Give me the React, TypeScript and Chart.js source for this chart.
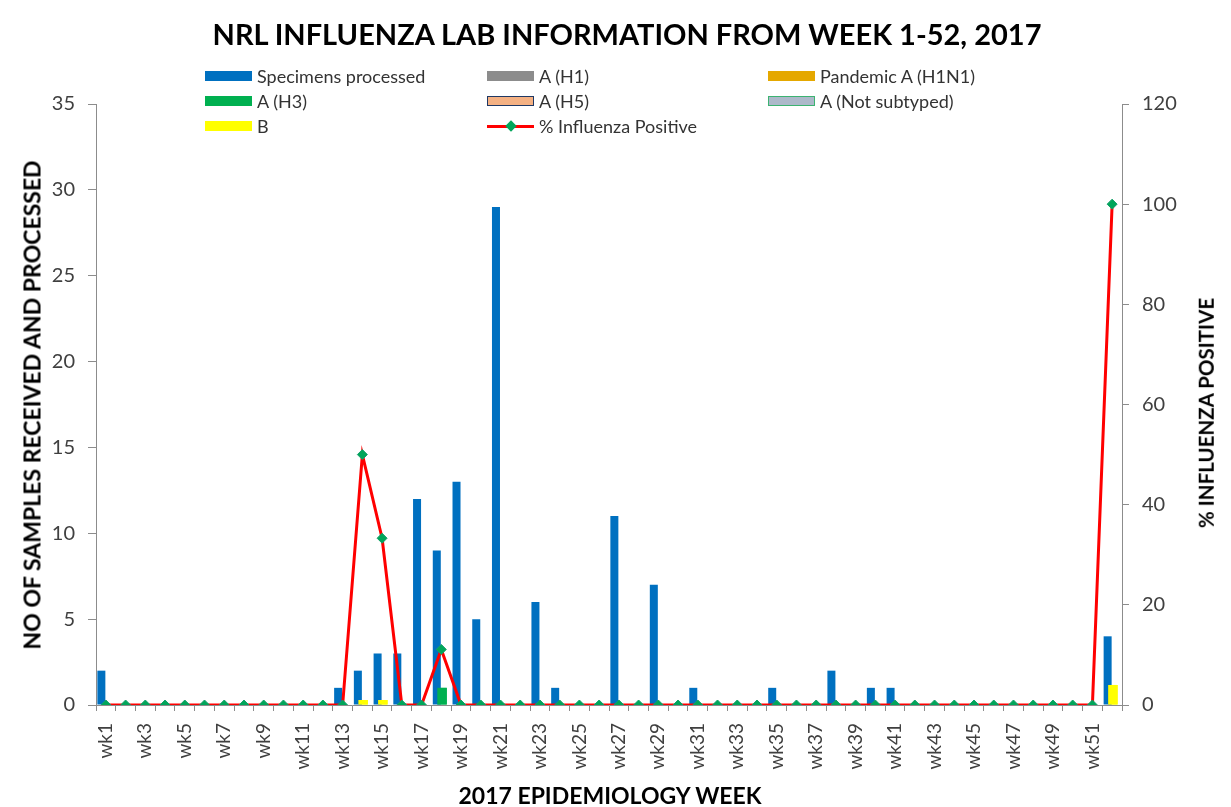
import React, { useEffect, useRef } from 'react';
import { Chart, registerables } from 'chart.js';

Chart.register(...registerables);

const weekLabels = [
  'wk1', 'wk2', 'wk3', 'wk4', 'wk5', 'wk6', 'wk7', 'wk8', 'wk9', 'wk10',
  'wk11', 'wk12', 'wk13', 'wk14', 'wk15', 'wk16', 'wk17', 'wk18', 'wk19', 'wk20',
  'wk21', 'wk22', 'wk23', 'wk24', 'wk25', 'wk26', 'wk27', 'wk28', 'wk29', 'wk30',
  'wk31', 'wk32', 'wk33', 'wk34', 'wk35', 'wk36', 'wk37', 'wk38', 'wk39', 'wk40',
  'wk41', 'wk42', 'wk43', 'wk44', 'wk45', 'wk46', 'wk47', 'wk48', 'wk49', 'wk50',
  'wk51', 'wk52',
];

const specimens = [
  2, 0, 0, 0, 0, 0, 0, 0, 0, 0,
  0, 0, 1, 2, 3, 3, 12, 9, 13, 5,
  29, 0, 6, 1, 0, 0, 11, 0, 7, 0,
  1, 0, 0, 0, 1, 0, 0, 2, 0, 1,
  1, 0, 0, 0, 0, 0, 0, 0, 0, 0,
  0, 4,
];

const aH1 = [
  0, 0, 0, 0, 0, 0, 0, 0, 0, 0, 0, 0, 0, 0, 0, 0, 0, 0, 0, 0, 0, 0, 0, 0, 0, 0,
  0, 0, 0, 0, 0, 0, 0, 0, 0, 0, 0, 0, 0, 0, 0, 0, 0, 0, 0, 0, 0, 0, 0, 0, 0, 0,
];

const pandemicH1N1 = [
  0, 0, 0, 0, 0, 0, 0, 0, 0, 0, 0, 0, 0, 0, 0, 0, 0, 0, 0, 0, 0, 0, 0, 0, 0, 0,
  0, 0, 0, 0, 0, 0, 0, 0, 0, 0, 0, 0, 0, 0, 0, 0, 0, 0, 0, 0, 0, 0, 0, 0, 0, 0,
];

const aH3 = [
  0, 0, 0, 0, 0, 0, 0, 0, 0, 0, 0, 0, 0, 0, 0, 0, 0, 1, 0, 0, 0, 0, 0, 0, 0, 0,
  0, 0, 0, 0, 0, 0, 0, 0, 0, 0, 0, 0, 0, 0, 0, 0, 0, 0, 0, 0, 0, 0, 0, 0, 0, 0,
];

const aH5 = [
  0, 0, 0, 0, 0, 0, 0, 0, 0, 0, 0, 0, 0, 0, 0, 0, 0, 0, 0, 0, 0, 0, 0, 0, 0, 0,
  0, 0, 0, 0, 0, 0, 0, 0, 0, 0, 0, 0, 0, 0, 0, 0, 0, 0, 0, 0, 0, 0, 0, 0, 0, 0,
];

const aNotSubtyped = [
  0, 0, 0, 0, 0, 0, 0, 0, 0, 0, 0, 0, 0, 0, 0, 0, 0, 0, 0, 0, 0, 0, 0, 0, 0, 0,
  0, 0, 0, 0, 0, 0, 0, 0, 0, 0, 0, 0, 0, 0, 0, 0, 0, 0, 0, 0, 0, 0, 0, 0, 0, 0,
];

// B is plotted against the secondary (%) axis in the original
const influenzaB = [
  0, 0, 0, 0, 0, 0, 0, 0, 0, 0, 0, 0, 0, 1, 1, 0, 0, 0, 0, 0, 0, 0, 0, 0, 0, 0,
  0, 0, 0, 0, 0, 0, 0, 0, 0, 0, 0, 0, 0, 0, 0, 0, 0, 0, 0, 0, 0, 0, 0, 0, 0, 4,
];

const pctPositive = [
  0, 0, 0, 0, 0, 0, 0, 0, 0, 0, 0, 0, 0, 50, 33.3, 0, 0, 11.1, 0, 0, 0, 0, 0, 0, 0, 0,
  0, 0, 0, 0, 0, 0, 0, 0, 0, 0, 0, 0, 0, 0, 0, 0, 0, 0, 0, 0, 0, 0, 0, 0, 0, 100,
];

const FONT = 'Lato, "Open Sans", sans-serif';
const TICK_COLOR = '#404040';
const AXIS_COLOR = '#8C8C8C';

const subtypeOnTop = {
  id: 'subtypeOnTop',
  afterDatasetDraw(chart: any, args: any) {
    if (args.index === 0) {
      for (let i = 1; i <= 6; i++) {
        const m = chart.getDatasetMeta(i);
        if (!m.hidden) m.controller.draw();
      }
    }
  },
};

const legendItems = [
  { label: 'Specimens processed', fill: '#0070C0', border: '', line: false, col: 0, row: 0 },
  { label: 'A (H1)', fill: '#8C8C8C', border: '', line: false, col: 1, row: 0 },
  { label: 'Pandemic A (H1N1)', fill: '#E5A800', border: '', line: false, col: 2, row: 0 },
  { label: 'A (H3)', fill: '#00B050', border: '', line: false, col: 0, row: 1 },
  { label: 'A (H5)', fill: '#F4B183', border: '#1F3864', line: false, col: 1, row: 1 },
  { label: 'A (Not subtyped)', fill: '#ADB9CA', border: '#3CB371', line: false, col: 2, row: 1 },
  { label: 'B', fill: '#FFFF00', border: '', line: false, col: 0, row: 2 },
  { label: '% Influenza Positive', fill: '#FF0000', border: '', line: true, col: 1, row: 2 },
];
const legendColX = [205, 487, 768];
const legendRowY = [76, 101, 126];

export default function App() {
  const canvasRef = useRef<HTMLCanvasElement | null>(null);

  useEffect(() => {
    const canvas = canvasRef.current;
    if (!canvas) return;
    const subBar = { stack: 'b', categoryPercentage: 0.152, barPercentage: 6.3, order: 1, borderWidth: 0 };
    const chart = new Chart(canvas, {
      type: 'bar',
      data: {
        labels: weekLabels,
        datasets: [
          {
            type: 'bar', label: 'Specimens processed', data: specimens, backgroundColor: '#0070C0',
            stack: 'a', yAxisID: 'y', categoryPercentage: 0.913, barPercentage: 0.889, order: 1, borderWidth: 0,
          } as any,
          { type: 'bar', label: 'A (H1)', data: aH1, backgroundColor: '#8C8C8C', yAxisID: 'y', ...subBar } as any,
          { type: 'bar', label: 'Pandemic A (H1N1)', data: pandemicH1N1, backgroundColor: '#E5A800', yAxisID: 'y', ...subBar } as any,
          { type: 'bar', label: 'A (H3)', data: aH3, backgroundColor: '#00B050', yAxisID: 'y', ...subBar } as any,
          { type: 'bar', label: 'A (H5)', data: aH5, backgroundColor: '#F4B183', yAxisID: 'y', ...subBar } as any,
          { type: 'bar', label: 'A (Not subtyped)', data: aNotSubtyped, backgroundColor: '#ADB9CA', yAxisID: 'y', ...subBar } as any,
          { type: 'bar', label: 'B', data: influenzaB, backgroundColor: '#FFFF00', yAxisID: 'y1', ...subBar } as any,
          {
            type: 'line', label: '% Influenza Positive', data: pctPositive, yAxisID: 'y1',
            borderColor: '#FF0000', borderWidth: 3, tension: 0, order: 0,
            pointStyle: 'rectRot', pointRadius: 5, pointBackgroundColor: '#00A65A',
            pointBorderColor: '#14A06A', pointBorderWidth: 1,
          } as any,
        ],
      },
      options: {
        responsive: false,
        animation: false,
        layout: { padding: { top: 104, left: 0, right: 0, bottom: 0 } },
        plugins: {
          legend: { display: false },
          title: { display: false },
          tooltip: { enabled: false },
        },
        scales: {
          x: {
            offset: true,
            grid: { display: true, drawOnChartArea: false, offset: true, tickLength: 6, color: AXIS_COLOR },
            border: { display: true, color: AXIS_COLOR, width: 1 },
            ticks: {
              autoSkip: false, maxRotation: 90, minRotation: 90, padding: 12,
              font: { family: FONT, size: 19 }, color: TICK_COLOR,
              callback: (_v: any, i: number) => (i % 2 === 0 ? weekLabels[i] : ''),
            },
            afterFit: (s: any) => { s.height = 102; },
          },
          y: {
            position: 'left', min: 0, max: 35,
            grid: { drawOnChartArea: false, tickLength: 8, color: AXIS_COLOR },
            border: { display: true, color: AXIS_COLOR, width: 1 },
            ticks: { stepSize: 5, padding: 13, font: { family: FONT, size: 20 }, color: TICK_COLOR },
            afterFit: (s: any) => { s.width = 96; },
          },
          y1: {
            position: 'right', min: 0, max: 120,
            grid: { drawOnChartArea: false, tickLength: 7, color: AXIS_COLOR },
            border: { display: true, color: AXIS_COLOR, width: 1 },
            ticks: { stepSize: 20, padding: 13, font: { family: FONT, size: 20 }, color: TICK_COLOR },
            afterFit: (s: any) => { s.width = 109; },
          },
        },
      } as any,
      plugins: [subtypeOnTop],
    });
    return () => chart.destroy();
  }, []);

  const boldTitle: React.CSSProperties = {
    position: 'absolute', fontFamily: FONT, fontWeight: 700, color: '#000', whiteSpace: 'nowrap',
    transform: 'translate(-50%, -50%)', lineHeight: 1,
  };

  return (
    <div style={{ position: 'absolute', left: 0, top: 0, width: 1231, height: 807, background: '#fff', overflow: 'hidden' }}>
      <canvas ref={canvasRef} width={1231} height={807} style={{ display: 'block', position: 'absolute', left: 0, top: 0 }} />
      <div style={{ ...boldTitle, left: 627, top: 33, fontSize: 29 }}>
        NRL INFLUENZA LAB INFORMATION FROM WEEK 1-52, 2017
      </div>
      <div style={{ ...boldTitle, left: 32, top: 405, fontSize: 23, transform: 'translate(-50%, -50%) rotate(-90deg)' }}>
        NO OF SAMPLES RECEIVED AND PROCESSED
      </div>
      <div style={{ ...boldTitle, left: 1206, top: 413, fontSize: 20.5, transform: 'translate(-50%, -50%) rotate(-90deg)' }}>
        % INFLUENZA POSITIVE
      </div>
      <div style={{ ...boldTitle, left: 610, top: 795, fontSize: 23 }}>
        2017 EPIDEMIOLOGY WEEK
      </div>
      {legendItems.map((it) => (
        <div
          key={it.label}
          style={{
            position: 'absolute', left: legendColX[it.col], top: legendRowY[it.row] - 11, height: 22,
            display: 'flex', alignItems: 'center', fontFamily: FONT, fontSize: 18, color: '#333', whiteSpace: 'nowrap',
          }}
        >
          {it.line ? (
            <span style={{ position: 'relative', width: 47, height: 10, marginRight: 5, display: 'inline-block' }}>
              <span style={{ position: 'absolute', left: 0, top: 3.5, width: 47, height: 3, background: it.fill }} />
              <span style={{ position: 'absolute', left: 19.5, top: 1, width: 8, height: 8, background: '#00A65A', transform: 'rotate(45deg)' }} />
            </span>
          ) : (
            <span
              style={{
                width: 47, height: 10, marginRight: 5, display: 'inline-block', boxSizing: 'border-box',
                background: it.fill, border: it.border ? `1px solid ${it.border}` : 'none',
              }}
            />
          )}
          <span>{it.label}</span>
        </div>
      ))}
    </div>
  );
}
